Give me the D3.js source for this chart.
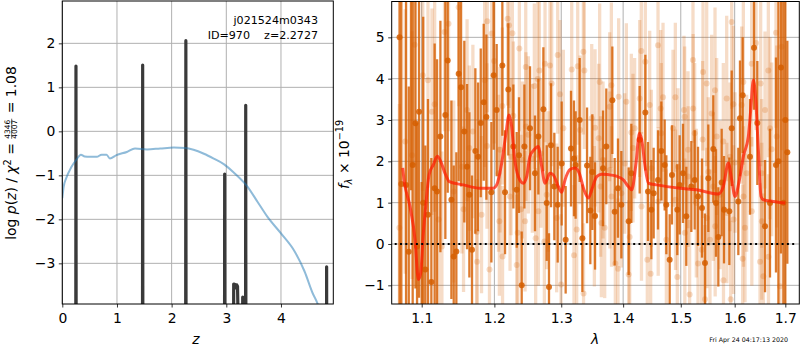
<!DOCTYPE html>
<html>
<head>
<meta charset="utf-8">
<script src="https://cdn.jsdelivr.net/npm/d3@7"></script>
<style>
  body { margin: 0; background: #fff; }
  text { font-family: "DejaVu Sans", sans-serif; }
</style>
</head>
<body>
<div id="chart"></div>
<script>
// ---- left panel: redshift probability ----
// black spike curve (log p(z)), -10 means "far below the axis"
const pzZ   = [0.244, 0.250, 0.256, 1.464, 1.470, 1.476, 2.254, 2.260, 2.266, 2.964, 2.970, 2.976,
               3.125, 3.135, 3.160, 3.175, 3.190, 3.205, 3.215, 3.280, 3.300, 3.315,
               3.349, 3.355, 3.361, 4.829, 4.835, 4.841];
const pzLog = [-10, 1.485, -10, -10, 1.507, -10, -10, 2.06, -10, -10, -0.97, -10,
               -10, -3.47, -3.48, -3.56, -3.49, -3.52, -4.2, -10, -3.77, -4.5,
               -10, 0.59, -10, -10, -3.08, -10];
// blue curve
const chiZ   = [0.00, 0.025, 0.07, 0.166, 0.26, 0.34, 0.41, 0.50, 0.63, 0.72, 0.81, 0.87, 0.99, 1.18,
                1.33, 1.55, 1.79, 2.04, 2.25, 2.40, 2.59, 2.77, 2.96, 3.14, 3.39, 3.57, 3.75, 4.00,
                4.25, 4.43, 4.58, 4.67, 4.75];
const chiLog = [-1.52, -1.26, -1.07, -0.81, -0.64, -0.53, -0.57, -0.58, -0.58, -0.53, -0.53, -0.62, -0.54, -0.47,
                -0.39, -0.41, -0.39, -0.37, -0.38, -0.42, -0.51, -0.62, -0.75, -0.94, -1.26, -1.60, -1.94, -2.32,
                -2.73, -3.18, -3.68, -3.92, -4.3];
const zTicks = [0, 1, 2, 3, 4];
const pTicks = [-3, -2, -1, 0, 1, 2];

// ---- right panel: spectrum ----
const darkWave = [1.0712, 1.0735, 1.0796, 1.0831, 1.0860, 1.0882, 1.0918, 1.0939, 1.0965, 1.1000, 1.1020,
  1.1048, 1.1083, 1.1128, 1.1172, 1.1204, 1.1249, 1.1316, 1.1348, 1.1398, 1.1430, 1.1466, 1.1498, 1.1531,
  1.1576, 1.1614, 1.1646, 1.1683, 1.1730, 1.1768, 1.1806, 1.1848, 1.1886, 1.1957, 1.1990,
  1.2033, 1.2115, 1.2154, 1.2202, 1.2276, 1.2325, 1.2359, 1.2399, 1.2439, 1.2523, 1.2598, 1.2649, 1.2725,
  1.2776, 1.2811, 1.2842, 1.2893, 1.2945, 1.3007, 1.3069, 1.3153, 1.3200, 1.3226, 1.3290, 1.3333, 1.3408,
  1.3461, 1.3493, 1.3537,
  1.3667, 1.3721, 1.3820, 1.3859, 1.3914, 1.3970, 1.4093, 1.4138, 1.4280, 1.4377, 1.4423, 1.4481, 1.4521,
  1.4597, 1.4655, 1.4714, 1.4743, 1.4802, 1.4843, 1.4938, 1.4980, 1.5040, 1.5100, 1.5191, 1.5252, 1.5313,
  1.5386,
  1.5441, 1.5503, 1.5596, 1.5646, 1.5690, 1.5753, 1.5797, 1.5898, 1.5943, 1.6070, 1.6102, 1.6154, 1.6296,
  1.6375, 1.6440, 1.6592, 1.6691, 1.6811, 1.6860, 1.6912, 1.6960, 1.7000, 1.7041];
const darkFlux = [5.0, 1.45, 1.43, -0.19, 6.8, 1.91, 2.92, -0.06, 3.2, -2.0, 1.0,
  -0.62, 0.71, -0.92, 1.35, 1.27, 2.60, 3.12, 4.44, 1.07, -0.30, -0.18, 4.12, 3.79,
  2.72, 1.87, 1.19, -0.14, 2.25, 2.11, 2.93, 3.43, 3.07, 1.25, 4.08,
  3.24, 4.32, 1.25, 3.74, 2.36, 1.31, 2.15, -1.00, 2.36, 2.80, 1.71, 2.60, 3.26,
  0.99, -1.04, 2.39, 1.39, 0.95, 1.95, 0.10, 2.31, 2.07, 1.91, 3.00, 0.14, 1.90,
  0.81, 1.74, 0.68,
  1.83, 2.36, 3.48, 0.78, 1.35, 0.95, 0.55, 1.71, 2.52, 3.18, 1.27, 0.83, 1.23,
  1.55, 2.25, 1.91, 0.95, -0.38, 1.67, 0.83, 1.43, 1.71, 0.67, 1.39, 1.55, 1.15,
  0.87,
  -0.46, 1.59, 2.30, 0.99, 0.17, 1.49, 0.83, 0.79, 2.80, 1.03, 3.04, 3.60, 2.11,
  4.75, 2.93, 0.43, 0.99, 1.91, 2.0, 4.27, 1.0, 3.0, 2.22];
const darkErr = [7.0, 5.5, 5.0, 4.0, 5.5, 4.5, 4.0, 3.0, 4.5, 3.5, 4.5,
  3.0, 2.8, 3.0, 3.5, 3.2, 2.8, 3.0, 3.2, 2.4, 2.2, 2.4, 2.6, 2.4,
  2.2, 2.0, 2.0, 1.8, 2.0, 1.8, 1.8, 1.9, 2.0, 1.7, 1.8,
  1.6, 1.7, 1.5, 1.6, 1.5, 1.4, 1.4, 1.3, 1.5, 1.5, 1.4, 1.4, 1.5,
  1.4, 1.3, 1.5, 1.3, 1.4, 1.5, 1.3, 1.4, 1.4, 1.3, 1.5, 1.3, 1.4,
  1.3, 1.4, 1.3,
  1.4, 1.4, 1.3, 1.3, 1.2, 1.3, 1.3, 1.2, 1.3, 1.4, 1.2, 1.2, 1.1,
  1.2, 1.2, 1.1, 1.2, 1.1, 1.2, 1.1, 1.2, 1.2, 1.2, 1.1, 1.2, 1.2,
  1.2,
  1.2, 1.3, 1.3, 1.3, 1.2, 1.3, 1.3, 1.3, 1.4, 1.3, 1.4, 1.4, 1.4,
  1.5, 1.5, 1.6, 1.8, 2.6, 5.5, 4.5, 6.0, 5.0, 2.7];

const lightWave = [1.0710, 1.0785, 1.0874, 1.0908, 1.1014, 1.1083, 1.1136, 1.1172, 1.1225, 1.1269, 1.1305,
  1.1359, 1.1430, 1.1498, 1.1542, 1.1565, 1.1614, 1.1646, 1.1695, 1.1750, 1.1754, 1.1817, 1.1861, 1.1894,
  1.1898, 1.1930, 1.1962, 1.1997,
  1.2060, 1.2072, 1.2081, 1.2115, 1.2118, 1.2192, 1.2212, 1.2227, 1.2242, 1.2261, 1.2276, 1.2325, 1.2340,
  1.2364, 1.2389, 1.2409, 1.2449, 1.2459, 1.2462, 1.2498, 1.2558, 1.2588, 1.2608, 1.2639, 1.2649, 1.2664,
  1.2689, 1.2740, 1.2750, 1.2776, 1.2801, 1.2826, 1.2852, 1.2929, 1.2945, 1.2981, 1.2997, 1.3033, 1.3164,
  1.3200, 1.3243, 1.3259, 1.3296, 1.3349, 1.3352, 1.3365, 1.3483, 1.3526, 1.3537,
  1.3596, 1.3612, 1.3628, 1.3640, 1.3667, 1.3694, 1.3776, 1.3779, 1.3804, 1.3807, 1.3870, 1.3914, 1.3925,
  1.3970, 1.4026, 1.4054, 1.4093, 1.4110, 1.4138, 1.4166, 1.4194, 1.4280, 1.4308, 1.4311, 1.4377, 1.4411,
  1.4452, 1.4469, 1.4481, 1.4597, 1.4600, 1.4643, 1.4655, 1.4685, 1.4743, 1.4861, 1.4903, 1.4906, 1.4938,
  1.4950, 1.5058, 1.5070, 1.5073, 1.5130, 1.5133, 1.5160, 1.5221, 1.5224, 1.5252, 1.5282, 1.5313, 1.5405,
  1.5380, 1.5398, 1.5441, 1.5473, 1.5476, 1.5503, 1.5534, 1.5565, 1.5596, 1.5628, 1.5631, 1.5659, 1.5722,
  1.5784, 1.5787, 1.5848, 1.5851, 1.5911, 1.5924, 1.5943, 1.5975, 1.5978, 1.6006, 1.6135, 1.6154, 1.6167,
  1.6170, 1.6199, 1.6231, 1.6329, 1.6332, 1.6414, 1.6493, 1.6506, 1.6526, 1.6529, 1.6559, 1.6592, 1.6658,
  1.6661, 1.6691, 1.6725, 1.6811, 1.6825, 1.6892, 1.6926];
const lightFlux = [0.39, 2.48, 2.15, 4.82, 4.08, 3.96, 3.20, 3.38, 0.59, -0.06, 5.13,
  5.33, 1.27, 5.73, 1.87, 0.84, 3.24, 2.32, 2.72, 0.29, -0.43, 0.71, 3.96, 2.37,
  5.39, -0.62, 5.09, 4.43,
  1.71, 0.55, 2.28, 3.34, -0.30, 5.45, 5.29, 1.15, 2.11, 5.10, 3.10, -0.51, 0.27,
  4.73, 0.84, 2.03, 0.55, 4.28, 2.84, 2.64, 2.07, 3.82, 0.14, 3.99, 0.79, 4.20,
  2.19, 0.06, 4.36, 1.19, 1.51, 4.32, 3.88, 0.63, 4.57, 3.62, -0.98, 2.80, 4.22,
  -0.27, 0.35, 4.30, 2.76, 4.65, -1.20, 4.20, 3.04, 0.67, 2.81,
  2.56, 3.92, 1.39, 0.51, 2.03, 0.39, 3.32, 1.79, 3.84, 1.15, -0.47, -0.60, 3.56,
  1.23, 1.95, 3.44, -0.74, 0.17, 2.70, 2.32, 2.80, 3.52, 4.67, 0.91, 4.41, -0.38,
  3.36, -0.72, 1.83, 4.81, 1.03, 3.28, 2.68, 3.55, 0.10, 2.80, 3.55, 1.07, -0.80,
  1.87, 3.24, 3.08, 0.27, 2.28, 1.63, -1.22, 4.45, 3.28, 2.68, 0.99, -0.47, 4.16,
  -0.14, 2.53, -1.34, 3.88, 0.63, 1.75, 0.10, 3.16, 1.39, 3.72, 0.43, 2.60, 1.19,
  2.48, -0.88, 3.52, 0.75, 2.11, -1.34, 5.37, 3.38, 0.59, 1.97, 3.36, -0.36, 3.92,
  1.15, 0.39, 1.71, 4.36, 0.79, 4.86, -0.43, 3.88, 1.71, 0.55, -0.78, 3.24, 4.20,
  -0.31, 2.80, 2.29, 5.11, 2.60, -1.02, 4.77];
const lightErr = [3.0, 3.2, 3.0, 2.9, 2.8, 2.6, 2.5, 2.6, 2.4, 2.3, 2.4,
  2.6, 2.2, 2.4, 2.1, 2.0, 2.2, 2.0, 2.1, 1.9, 2.0, 1.9, 2.1, 2.0,
  2.2, 1.9, 2.1, 2.0,
  1.9, 1.8, 2.0, 1.9, 1.7, 2.1, 2.0, 1.8, 1.9, 2.0, 1.8, 1.7, 1.8,
  2.0, 1.8, 1.9, 1.7, 2.0, 1.8, 1.9, 1.8, 2.0, 1.7, 1.9, 1.8, 2.0,
  1.8, 1.7, 1.9, 1.8, 1.7, 1.9, 2.0, 1.8, 1.9, 1.8, 1.7, 1.9, 2.0,
  1.7, 1.8, 1.9, 1.8, 2.0, 1.7, 1.9, 1.8, 1.7, 1.9,
  1.8, 1.9, 1.7, 1.8, 1.9, 1.7, 1.8, 1.9, 2.0, 1.7, 1.8, 1.7, 1.9,
  1.8, 1.7, 1.9, 1.8, 1.7, 1.9, 1.8, 1.7, 1.9, 2.0, 1.8, 1.9, 1.7,
  1.8, 1.7, 1.9, 2.0, 1.8, 1.9, 1.7, 1.8, 1.7, 1.9, 1.8, 1.7, 1.8,
  1.9, 1.8, 1.7, 1.8, 1.9, 1.7, 1.8, 2.0, 1.8, 1.7, 1.8, 1.7, 1.9,
  1.8, 1.9, 1.8, 2.0, 1.7, 1.8, 1.7, 1.9, 1.8, 2.0, 1.7, 1.9, 1.8,
  1.9, 1.8, 2.0, 1.7, 1.8, 1.9, 2.1, 1.9, 1.8, 1.7, 1.9, 1.8, 2.0,
  1.7, 1.8, 1.9, 2.0, 1.8, 2.1, 1.9, 2.0, 1.8, 1.9, 2.0, 1.9, 2.1,
  2.0, 2.2, 2.1, 2.3, 2.2, 2.4, 2.5];

// model (red line)
const modelWave = [1.0753, 1.0770, 1.0847, 1.0913, 1.0956, 1.0987, 1.1022, 1.1053, 1.1097, 1.1155, 1.1208,
  1.1253, 1.1312, 1.1370, 1.1563, 1.1796, 1.1985, 1.2033, 1.2106, 1.2168, 1.2212, 1.2251, 1.2290, 1.2349,
  1.2423, 1.2473, 1.2522, 1.2583, 1.2648, 1.2699, 1.2750, 1.2826, 1.2878, 1.2955, 1.3007, 1.3059, 1.3137,
  1.3216, 1.3285, 1.3359, 1.3429, 1.3483, 1.3564, 1.3645, 1.3837, 1.4004, 1.4088, 1.4144, 1.4218, 1.4275,
  1.4315, 1.4372, 1.4430, 1.4575, 1.4987, 1.5289, 1.5690, 1.5784, 1.5879, 1.5943, 1.6007, 1.6090, 1.6167,
  1.6264, 1.6310, 1.6362, 1.6408, 1.6460, 1.6513, 1.6559, 1.6758, 1.7000];
const modelFlux = [1.84, 1.55, 0.91, 0.10, -0.86, -0.70, 0.27, 0.91, 1.67, 1.92, 2.12,
  2.00, 1.71, 1.51, 1.43, 1.35, 1.35, 1.43, 1.96, 2.68, 3.12, 2.84, 2.12, 1.63,
  1.47, 1.63, 2.12, 2.28, 2.36, 1.88, 1.47, 1.71, 1.67, 1.39, 1.25, 1.55, 1.80,
  1.84, 1.71, 1.31, 1.11, 1.31, 1.63, 1.69, 1.66, 1.55, 1.39, 1.31, 1.96, 2.68,
  2.52, 1.88, 1.47, 1.43, 1.35, 1.31, 1.21, 1.39, 1.96, 1.55, 1.15, 1.55, 2.12,
  2.60, 3.24, 3.97, 3.49, 2.28, 1.15, 1.07, 1.03, 0.99];
const waveTicks = [1.1, 1.2, 1.3, 1.4, 1.5, 1.6, 1.7];
const fluxTicks = [-1, 0, 1, 2, 3, 4, 5];

const W = 800, H = 350;
const FS = 13.9;
const ORANGE = "#d55e00";

const svg = d3.select("#chart").append("svg")
    .attr("width", W)
    .attr("height", H);

// axes boxes
const L = { x0: 62.3, x1: 333.3, y0: 1, y1: 304 };
const R = { x0: 391.7, x1: 799.3, y0: 1.5, y1: 304 };

function styleAxis(g) {
    g.select(".domain").remove();
    g.selectAll(".tick line").attr("stroke", "#000").attr("stroke-width", 0.8);
    g.selectAll(".tick text").attr("font-family", "DejaVu Sans").attr("font-size", FS).attr("fill", "#000");
}

function panel(box, x, y, xt, yt, xfmt, yfmt, id) {
    svg.append("clipPath").attr("id", id)
        .append("rect")
        .attr("x", box.x0).attr("y", box.y0)
        .attr("width", box.x1 - box.x0).attr("height", box.y1 - box.y0);

    // grid
    const grid = svg.append("g");
    grid.selectAll(".gx").data(xt).enter().append("line")
        .attr("x1", d => x(d)).attr("x2", d => x(d))
        .attr("y1", box.y0).attr("y2", box.y1)
        .attr("stroke", "#b0b0b0").attr("stroke-width", 1);
    grid.selectAll(".gy").data(yt).enter().append("line")
        .attr("x1", box.x0).attr("x2", box.x1)
        .attr("y1", d => y(d)).attr("y2", d => y(d))
        .attr("stroke", "#b0b0b0").attr("stroke-width", 1);

    const plot = svg.append("g").attr("clip-path", "url(#" + id + ")");

    const ax = svg.append("g")
        .attr("transform", "translate(0," + box.y1 + ")")
        .call(d3.axisBottom(x).tickValues(xt).tickFormat(xfmt).tickSize(3.5).tickPadding(5.5));
    styleAxis(ax);
    const ay = svg.append("g")
        .attr("transform", "translate(" + box.x0 + ",0)")
        .call(d3.axisLeft(y).tickValues(yt).tickFormat(yfmt).tickSize(3.5).tickPadding(3.5));
    styleAxis(ay);

    return plot;
}

function frame(box) {
    svg.append("rect")
        .attr("x", box.x0).attr("y", box.y0)
        .attr("width", box.x1 - box.x0).attr("height", box.y1 - box.y0)
        .attr("fill", "none").attr("stroke", "#000").attr("stroke-width", 1);
}

// ---------- left ----------
const xz = d3.scaleLinear().domain([0, 4.957]).range([L.x0, L.x1]);
const yp = d3.scaleLinear().domain([-3.924, 2.962]).range([L.y1, L.y0]);
const leftPlot = panel(L, xz, yp, zTicks, pTicks, d3.format("d"), d3.format("d"), "clipL");

leftPlot.append("path")
    .datum(pzZ.map((z, i) => [z, pzLog[i]]))
    .attr("d", d3.line().x(d => xz(d[0])).y(d => yp(d[1])))
    .attr("fill", "none")
    .attr("stroke", "#3a3a3a")
    .attr("stroke-width", 3.2)
    .attr("stroke-linejoin", "round");

leftPlot.append("path")
    .datum(chiZ.map((z, i) => [z, chiLog[i]]))
    .attr("d", d3.line().curve(d3.curveMonotoneX).x(d => xz(d[0])).y(d => yp(d[1])))
    .attr("fill", "none")
    .attr("stroke", "#1f77b4")
    .attr("stroke-opacity", 0.5)
    .attr("stroke-width", 2);

frame(L);

svg.append("text").attr("x", 318).attr("y", 24).attr("text-anchor", "end")
    .attr("font-size", 11.1).text("j021524m0343");
svg.append("text").attr("x", 318).attr("y", 38.5).attr("text-anchor", "end")
    .attr("font-size", 11.1).style("white-space", "pre").text("ID=970    z=2.2727");

// ---------- right ----------
const xw = d3.scaleLog().domain([1.0612, 1.7287]).range([R.x0, R.x1]);
const yf = d3.scaleLinear().domain([-1.452, 5.867]).range([R.y1, R.y0]);
const rightPlot = panel(R, xw, yf, waveTicks, fluxTicks, d3.format(".1f"), d3.format("d"), "clipR");

const light = lightWave.map((w, i) => ({ w: w, f: lightFlux[i], e: lightErr[i] }));
const dark = darkWave.map((w, i) => ({ w: w, f: darkFlux[i], e: darkErr[i] }));

const lg = rightPlot.append("g");
lg.selectAll("line").data(light).enter().append("line")
    .attr("x1", d => xw(d.w)).attr("x2", d => xw(d.w))
    .attr("y1", d => yf(d.f - d.e)).attr("y2", d => yf(d.f + d.e))
    .attr("stroke", ORANGE).attr("stroke-opacity", 0.22).attr("stroke-width", 3.3);
lg.selectAll("circle").data(light).enter().append("circle")
    .attr("cx", d => xw(d.w)).attr("cy", d => yf(d.f)).attr("r", 3)
    .attr("fill", ORANGE).attr("fill-opacity", 0.22);

const dg = rightPlot.append("g");
dg.selectAll("line").data(dark).enter().append("line")
    .attr("x1", d => xw(d.w)).attr("x2", d => xw(d.w))
    .attr("y1", d => yf(d.f - d.e)).attr("y2", d => yf(d.f + d.e))
    .attr("stroke", ORANGE).attr("stroke-opacity", 0.82).attr("stroke-width", 2.3);
dg.selectAll("circle").data(dark).enter().append("circle")
    .attr("cx", d => xw(d.w)).attr("cy", d => yf(d.f)).attr("r", 3)
    .attr("fill", ORANGE).attr("fill-opacity", 0.85);

rightPlot.append("path")
    .datum(modelWave.map((w, i) => [w, modelFlux[i]]))
    .attr("d", d3.line().curve(d3.curveMonotoneX).x(d => xw(d[0])).y(d => yf(d[1])))
    .attr("fill", "none")
    .attr("stroke", "#ff1a00")
    .attr("stroke-opacity", 0.72)
    .attr("stroke-width", 3);

rightPlot.append("line")
    .attr("x1", R.x0 + 3).attr("x2", R.x1 - 2)
    .attr("y1", yf(0)).attr("y2", yf(0))
    .attr("stroke", "#000").attr("stroke-width", 2)
    .attr("stroke-dasharray", "2,3.3");

frame(R);

// ---------- axis labels ----------
svg.append("text").attr("x", 196).attr("y", 344).attr("text-anchor", "middle")
    .attr("font-size", FS).attr("font-style", "italic").text("z");
svg.append("text").attr("x", 595).attr("y", 344).attr("text-anchor", "middle")
    .attr("font-size", FS).attr("font-style", "italic").text("λ");

// builds a rotated label from pieces, placed one after another
function rotatedLabel(cx, cy, pieces) {
    const g = svg.append("g").attr("transform", "translate(" + cx + "," + cy + ") rotate(-90)");
    const inner = g.append("g");
    let pos = 0;
    pieces.forEach(p => {
        if (p.frac) {
            const num = inner.append("text").attr("x", pos).attr("y", p.ny).attr("font-size", p.size).text(p.frac[0]);
            const den = inner.append("text").attr("x", pos).attr("y", p.dy).attr("font-size", p.size).text(p.frac[1]);
            const w = Math.max(num.node().getComputedTextLength(), den.node().getComputedTextLength()) + 1;
            inner.append("line").attr("x1", pos).attr("x2", pos + w)
                .attr("y1", p.by).attr("y2", p.by).attr("stroke", "#000").attr("stroke-width", 0.6);
            pos += w + 1;
        } else {
            const t = inner.append("text").attr("x", pos).attr("y", p.y || 0)
                .attr("font-size", p.size || FS)
                .attr("font-style", p.it ? "italic" : "normal")
                .style("white-space", "pre")
                .text(p.s);
            pos += t.node().getComputedTextLength();
        }
    });
    inner.attr("transform", "translate(" + (-pos / 2) + ",0)");
}

rotatedLabel(16, 153, [
    { s: "log " }, { s: "p", it: true }, { s: "(" }, { s: "z", it: true }, { s: ") / " },
    { s: "χ", it: true }, { s: "2", size: 9.7, y: -5.5 }, { s: " = " },
    { frac: ["4346", "4007"], size: 7.5, ny: -6, dy: 1, by: -4.3 },
    { s: " = 1.08" }
]);

rotatedLabel(349, 154.5, [
    { s: "f", it: true }, { s: "λ", it: true, size: 9.7, y: 3 }, { s: " × 10" },
    { s: "−19", size: 9.7, y: -6 }
]);

svg.append("text").attr("x", 788).attr("y", 342).attr("text-anchor", "end")
    .attr("font-size", 6.3).text("Fri Apr 24 04:17:13 2020");
</script>
</body>
</html>
